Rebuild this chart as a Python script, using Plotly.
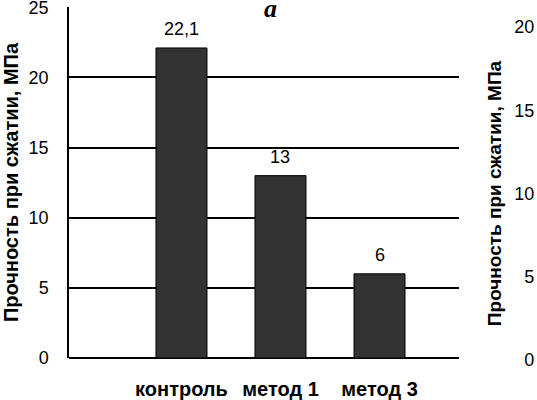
import plotly.graph_objects as go

categories = ["контроль", "метод 1", "метод 3"]
strength = [22.1, 13, 6]
y_ticks = [0, 5, 10, 15, 20, 25]
y2_ticks = [0, 5, 10, 15, 20]
y_title = "Прочность при сжатии, МПа"
panel_label = "a"

W, H = 537, 400
font = "Liberation Sans, Arial, sans-serif"

fig = go.Figure()
fig.add_trace(go.Bar(
    x=categories, y=strength, width=0.515,
    marker=dict(color="#333333", line=dict(color="#000000", width=1)),
    showlegend=False, hoverinfo="x+y",
))

# value labels above the bars, decimal comma as in the source
for c, v in zip(categories, strength):
    fig.add_annotation(x=c, y=v, text=str(v).replace(".", ","), showarrow=False,
                       yshift=19, font=dict(family=font, size=18, color="black"))

# panel letter
fig.add_annotation(x=270 / W, y=1.0, xref="paper", yref="paper", xanchor="center", yanchor="top",
                   text=f"<b><i>{panel_label}</i></b>", showarrow=False, yshift=8,
                   font=dict(family="Liberation Serif, Times New Roman, serif", size=26, color="black"))

# empty trace to carry the neighbouring panel's axis
fig.add_trace(go.Scatter(x=[0], y=[0], xaxis="x2", yaxis="y2", mode="markers",
                         marker=dict(opacity=0), showlegend=False, hoverinfo="skip"))

fig.update_layout(
    width=W, height=H,
    margin=dict(l=0, r=0, t=0, b=0),
    plot_bgcolor="white", paper_bgcolor="white",
    font=dict(family=font, color="black"),
    xaxis=dict(
        domain=[69 / W, 459 / W], type="category", range=[-1.136, 2.803],
        showline=False, showgrid=False, zeroline=False, ticks="",
        tickfont=dict(family=font, size=20, color="black", weight="bold"),
        ticklabelstandoff=17, fixedrange=True, automargin=False,
    ),
    yaxis=dict(
        domain=[(H - 358) / H, (H - 7) / H], range=[0, 25.02], tickvals=y_ticks,
        showline=True, linecolor="black", linewidth=1.5,
        showgrid=True, gridcolor="black", gridwidth=1.5,
        zeroline=True, zerolinecolor="black", zerolinewidth=1.5,
        ticks="", ticklabelstandoff=15, ticklabeloverflow="allow",
        tickfont=dict(family=font, size=18, color="black"),
        title=dict(text=f"<b>{y_title}</b>", standoff=20,
                   font=dict(family=font, size=20, color="black")),
        automargin=False,
    ),
    xaxis2=dict(domain=[0.997, 0.999], anchor="y2", visible=False, range=[0, 1],
                automargin=False),
    yaxis2=dict(
        domain=[(H - 360) / H, (H - 27) / H], anchor="x2", side="left", range=[0, 20],
        tickvals=y2_ticks, showline=False, showgrid=False, zeroline=False, ticks="",
        ticklabelstandoff=0, ticklabeloverflow="allow",
        tickfont=dict(family=font, size=18, color="black"),
        title=dict(text=f"<b>{y_title}</b>", standoff=7,
                   font=dict(family=font, size=19, color="black")),
        automargin=False,
    ),
)

# drop the browser's default 8px body margin so the figure sits at the page corner
fig.write_html("out.html", config={"displayModeBar": False},
               post_script="document.body.style.margin='0px';")
